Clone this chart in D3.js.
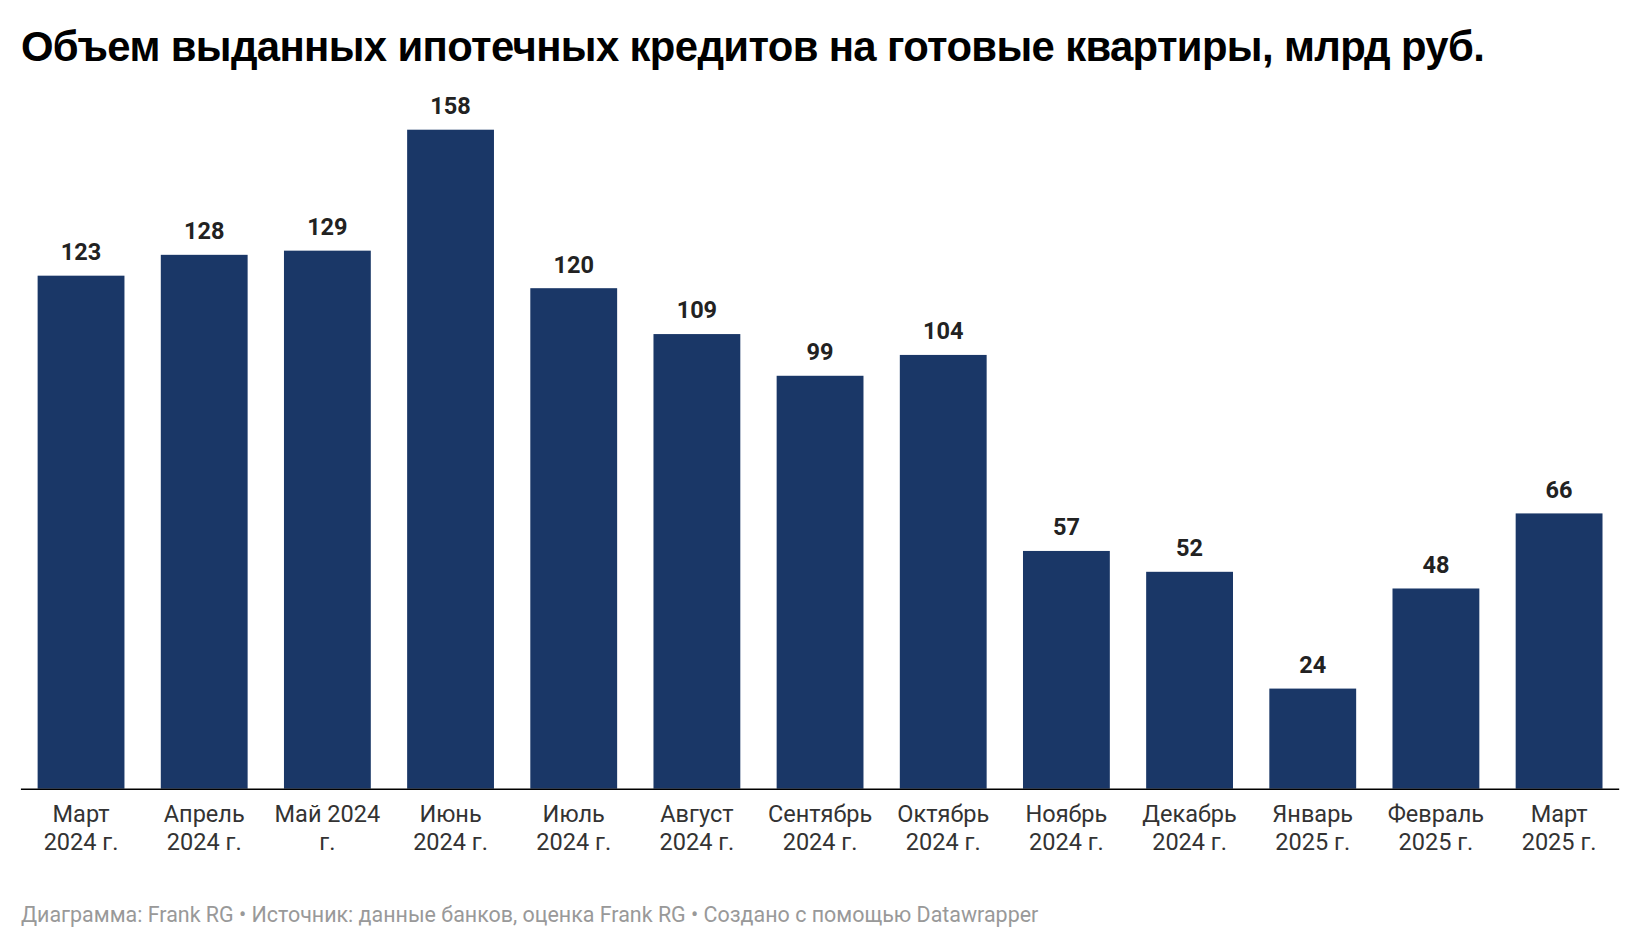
<!DOCTYPE html>
<html><head><meta charset="utf-8">
<script src="https://cdn.jsdelivr.net/npm/d3@7"></script>
<style>body{margin:0;background:#fff;}</style>
</head><body>
<svg id="c" width="1640" height="948"></svg>
<script>
const categories = [["Март","2024 г."],["Апрель","2024 г."],["Май 2024","г."],["Июнь","2024 г."],["Июль","2024 г."],["Август","2024 г."],["Сентябрь","2024 г."],["Октябрь","2024 г."],["Ноябрь","2024 г."],["Декабрь","2024 г."],["Январь","2025 г."],["Февраль","2025 г."],["Март","2025 г."]];
const values = [123,128,129,158,120,109,99,104,57,52,24,48,66];
const title = "Объем выданных ипотечных кредитов на готовые квартиры, млрд руб.";
const footer = "Диаграмма: Frank RG • Источник: данные банков, оценка Frank RG • Создано с помощью Datawrapper";

const svg = d3.select("#c").append("g").attr("transform","scale(1.046)");
const base = 754;
const x = d3.scaleBand().domain(d3.range(values.length)).range([18.6,1549.4]).paddingInner(0.295).paddingOuter(0.1475);
const y = d3.scaleLinear().domain([0,158]).range([base,124]);

svg.append("text").attr("x",20).attr("y",58).attr("font-family","Liberation Sans, Arial").attr("font-weight","bold").attr("font-size",40).attr("fill","#000").attr("letter-spacing","-0.6").text(title);

svg.selectAll("rect.b").data(values).join("rect").attr("x",(d,i)=>x(i)).attr("width",x.bandwidth())
  .attr("y",d=>y(d)).attr("height",d=>base-y(d)).attr("fill","#1a3767");
svg.selectAll("text.v").data(values).join("text").attr("x",(d,i)=>x(i)+x.bandwidth()/2).attr("y",d=>y(d)-15)
  .attr("text-anchor","middle").attr("font-family","Roboto").attr("font-weight","bold").attr("font-size",22.5).attr("fill","#222").text(d=>d);
svg.append("line").attr("x1",20).attr("x2",1548).attr("y1",base+0.5).attr("y2",base+0.5).attr("stroke","#000").attr("stroke-width",1.5);

const lab = svg.selectAll("text.c").data(categories).join("text").attr("text-anchor","middle")
  .attr("font-family","Roboto").attr("font-size",22.5).attr("fill","#333");
lab.each(function(d,i){
  const t=d3.select(this);
  d.forEach((s,j)=>t.append("tspan").attr("x",x(i)+x.bandwidth()/2).attr("y",786+j*27).text(s));
});
svg.append("text").attr("x",20).attr("y",881).attr("font-family","Roboto").attr("font-size",20.5).attr("fill","#999").text(footer);
</script>
</body></html>
